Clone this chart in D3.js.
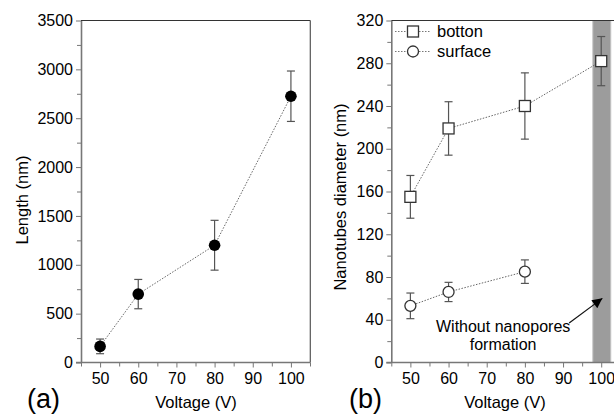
<!DOCTYPE html>
<html>
<head>
<meta charset="utf-8">
<script src="https://cdn.jsdelivr.net/npm/d3@7"></script>
<style>
  body { margin: 0; background: #fff; }
  svg { display: block; font-family: "Liberation Sans", Arial, sans-serif; }
  .axis path, .axis line { stroke: #777; }
  .axis text { fill: #000; font-size: 16px; font-family: "Liberation Sans", Arial, sans-serif; }
</style>
</head>
<body>
<div id="chart"></div>
<script>
// ---- data ----
var voltage = [50, 60, 80, 100];
var lengthNm = [165, 700, 1200, 2725];
var lengthErr = [75, 150, 255, 258];

var bottonD = [155, 219, 240, 282];
var bottonErr = [20, 25, 31, 23];

var surfaceV = [50, 60, 80];
var surfaceD = [53, 66, 85];
var surfaceErr = [12, 9, 11];

var xTicks = [50, 60, 70, 80, 90, 100];
var xMinor = [45, 55, 65, 75, 85, 95, 105];
var yTicksA = [0, 500, 1000, 1500, 2000, 2500, 3000, 3500];
var yMinorA = [250, 750, 1250, 1750, 2250, 2750, 3250];
var yTicksB = [0, 40, 80, 120, 160, 200, 240, 280, 320];
var yMinorB = [20, 60, 100, 140, 180, 220, 260, 300];

var bandRange = [97.8, 102.5];

var svg = d3.select("#chart").append("svg")
    .attr("width", 614)
    .attr("height", 414);

// scales for both panels
var xA = d3.scaleLinear().domain([45, 105]).range([81, 310]);
var yA = d3.scaleLinear().domain([0, 3500]).range([362.5, 20.5]);
var xB = d3.scaleLinear().domain([45, 105]).range([391.3, 620.3]);
var yB = d3.scaleLinear().domain([0, 320]).range([362.5, 20.5]);

svg.append("defs").append("marker")
    .attr("id", "arrow")
    .attr("viewBox", "0 0 10 10")
    .attr("refX", 10).attr("refY", 5)
    .attr("markerWidth", 12).attr("markerHeight", 10)
    .attr("markerUnits", "userSpaceOnUse")
    .attr("orient", "auto")
    .append("path")
    .attr("d", "M0,0 L10,5 L0,10 z")
    .attr("fill", "#000");

// grey band (panel b) drawn first so the frame sits on top
svg.append("rect")
    .attr("x", xB(bandRange[0]))
    .attr("y", yB(320))
    .attr("width", xB(bandRange[1]) - xB(bandRange[0]))
    .attr("height", yB(0) - yB(320))
    .attr("fill", "#9c9c9c")
    .attr("stroke", "#c4c4c4")
    .attr("stroke-width", 1);

function drawAxes(x, y, yMajor, yMinor, rightEdge) {
    // frame top / right
    svg.append("line")
        .attr("x1", x(45)).attr("x2", rightEdge)
        .attr("y1", y.range()[1]).attr("y2", y.range()[1])
        .attr("stroke", "#333").attr("stroke-width", 1.2);
    if (rightEdge < 614) {
        svg.append("line")
            .attr("x1", rightEdge).attr("x2", rightEdge)
            .attr("y1", y.range()[1]).attr("y2", y.range()[0])
            .attr("stroke", "#555").attr("stroke-width", 1.2);
    }

    // minor ticks
    svg.append("g").attr("class", "axis")
        .attr("transform", "translate(0," + y.range()[0] + ")")
        .call(d3.axisBottom(x).tickValues(xMinor).tickSize(4).tickFormat(""))
        .select(".domain").remove();
    svg.append("g").attr("class", "axis")
        .attr("transform", "translate(" + x(45) + ",0)")
        .call(d3.axisLeft(y).tickValues(yMinor).tickSize(4).tickFormat(""))
        .select(".domain").remove();

    // major ticks
    var xg = svg.append("g").attr("class", "axis")
        .attr("transform", "translate(0," + y.range()[0] + ")")
        .call(d3.axisBottom(x).tickValues(xTicks).tickSize(5).tickSizeOuter(0).tickPadding(5));
    var yg = svg.append("g").attr("class", "axis")
        .attr("transform", "translate(" + x(45) + ",0)")
        .call(d3.axisLeft(y).tickValues(yMajor).tickFormat(d3.format("d"))
            .tickSize(5).tickSizeOuter(0).tickPadding(3));
    xg.select(".domain").attr("stroke-width", 1.6).attr("d", "M" + (x(45) - 5) + ",0H" + rightEdge);
    yg.select(".domain").attr("stroke-width", 1.6);
}

drawAxes(xA, yA, yTicksA, yMinorA, 310.3);
drawAxes(xB, yB, yTicksB, yMinorB, 620);

function dotted(x, y, xs, ys) {
    svg.append("path")
        .datum(d3.zip(xs, ys))
        .attr("fill", "none")
        .attr("stroke", "#666")
        .attr("stroke-width", 1)
        .attr("stroke-dasharray", "1.5,1.5")
        .attr("d", d3.line().x(function(d) { return x(d[0]); }).y(function(d) { return y(d[1]); }));
}

function errorBars(x, y, xs, ys, es) {
    var g = svg.append("g").attr("stroke", "#555").attr("stroke-width", 1.2);
    xs.forEach(function(v, i) {
        g.append("line")
            .attr("x1", x(v)).attr("x2", x(v))
            .attr("y1", y(ys[i] - es[i])).attr("y2", y(ys[i] + es[i]));
        [ys[i] - es[i], ys[i] + es[i]].forEach(function(e) {
            g.append("line")
                .attr("x1", x(v) - 4).attr("x2", x(v) + 4)
                .attr("y1", y(e)).attr("y2", y(e));
        });
    });
}

// ---- panel (a) ----
dotted(xA, yA, voltage, lengthNm);
errorBars(xA, yA, voltage, lengthNm, lengthErr);
svg.append("g").selectAll("circle")
    .data(d3.zip(voltage, lengthNm))
    .join("circle")
    .attr("cx", function(d) { return xA(d[0]); })
    .attr("cy", function(d) { return yA(d[1]); })
    .attr("r", 5.8)
    .attr("fill", "#000");

// ---- panel (b) ----
dotted(xB, yB, voltage, bottonD);
dotted(xB, yB, surfaceV, surfaceD);
errorBars(xB, yB, voltage, bottonD, bottonErr);
errorBars(xB, yB, surfaceV, surfaceD, surfaceErr);

svg.append("g").selectAll("rect")
    .data(d3.zip(voltage, bottonD))
    .join("rect")
    .attr("x", function(d) { return xB(d[0]) - 5.5; })
    .attr("y", function(d) { return yB(d[1]) - 5.5; })
    .attr("width", 11).attr("height", 11)
    .attr("fill", "#fff").attr("stroke", "#333").attr("stroke-width", 1.3);

svg.append("g").selectAll("circle")
    .data(d3.zip(surfaceV, surfaceD))
    .join("circle")
    .attr("cx", function(d) { return xB(d[0]); })
    .attr("cy", function(d) { return yB(d[1]); })
    .attr("r", 5.5)
    .attr("fill", "#fff").attr("stroke", "#333").attr("stroke-width", 1.3);

// legend
var legend = svg.append("g").attr("transform", "translate(395,0)");
[["botton", 31.5], ["surface", 51.5]].forEach(function(item, i) {
    legend.append("line")
        .attr("x1", 0).attr("x2", 36).attr("y1", item[1]).attr("y2", item[1])
        .attr("stroke", "#777").attr("stroke-width", 1).attr("stroke-dasharray", "1.5,1.5");
    if (i === 0) {
        legend.append("rect").attr("x", 12.5).attr("y", item[1] - 5.5).attr("width", 11).attr("height", 11)
            .attr("fill", "#fff").attr("stroke", "#333").attr("stroke-width", 1.3);
    } else {
        legend.append("circle").attr("cx", 18).attr("cy", item[1]).attr("r", 5.5)
            .attr("fill", "#fff").attr("stroke", "#333").attr("stroke-width", 1.3);
    }
    legend.append("text")
        .attr("x", 42).attr("y", item[1] + 5.5)
        .attr("font-size", 16.5).attr("fill", "#000")
        .text(item[0]);
});

// annotation
svg.append("line")
    .attr("x1", xB(91.6)).attr("y1", yB(37))
    .attr("x2", xB(100.3)).attr("y2", yB(60))
    .attr("stroke", "#111").attr("stroke-width", 1.2)
    .attr("marker-end", "url(#arrow)");
svg.append("text")
    .attr("x", xB(74.3)).attr("y", yB(28.8))
    .attr("text-anchor", "middle").attr("font-size", 16).attr("fill", "#000")
    .text("Without nanopores");
svg.append("text")
    .attr("x", xB(74.3)).attr("y", yB(11.7))
    .attr("text-anchor", "middle").attr("font-size", 16).attr("fill", "#000")
    .text("formation");

// axis titles and panel letters
svg.append("text")
    .attr("transform", "translate(28,200) rotate(-90)")
    .attr("text-anchor", "middle").attr("font-size", 16.5).attr("fill", "#000")
    .text("Length (nm)");
svg.append("text")
    .attr("transform", "translate(346,197) rotate(-90)")
    .attr("text-anchor", "middle").attr("font-size", 16.5).attr("fill", "#000")
    .text("Nanotubes diameter (nm)");
svg.append("text")
    .attr("x", 196).attr("y", 408)
    .attr("text-anchor", "middle").attr("font-size", 16.5).attr("fill", "#000")
    .text("Voltage (V)");
svg.append("text")
    .attr("x", 505).attr("y", 408)
    .attr("text-anchor", "middle").attr("font-size", 16.5).attr("fill", "#000")
    .text("Voltage (V)");
svg.append("text")
    .attr("x", 27).attr("y", 408)
    .attr("font-size", 27).attr("fill", "#000")
    .text("(a)");
svg.append("text")
    .attr("x", 349).attr("y", 408)
    .attr("font-size", 27).attr("fill", "#000")
    .text("(b)");
</script>
</body>
</html>
